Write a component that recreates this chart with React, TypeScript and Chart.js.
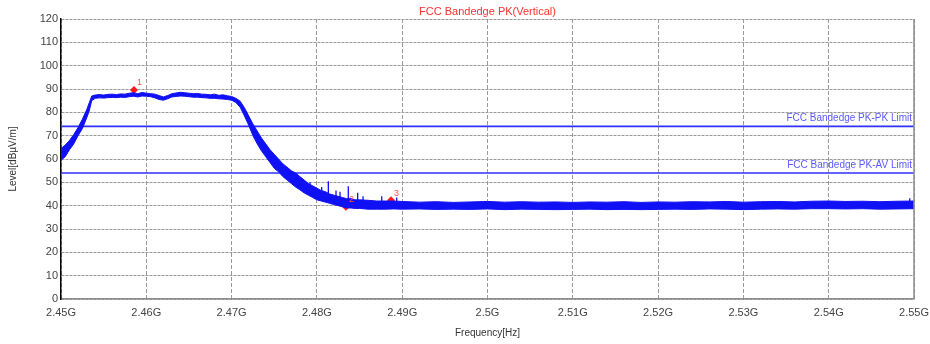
import React, { useEffect, useRef } from "react";
import { Chart, registerables } from "chart.js";

Chart.register(...registerables);

// ---------- data (frequency in GHz, level in dBµV/m) ----------
const freqs = [
  2.4500, 2.4505, 2.4510, 2.4515, 2.4520, 2.4525, 2.4530, 2.4533, 2.4536, 2.4540,
  2.4545, 2.4550, 2.4555, 2.4560, 2.4565, 2.4570, 2.4575, 2.4580, 2.4585, 2.4590,
  2.4595, 2.4600, 2.4605, 2.4610, 2.4615, 2.4620, 2.4625, 2.4630, 2.4635, 2.4640,
  2.4645, 2.4650, 2.4655, 2.4660, 2.4665, 2.4670, 2.4675, 2.4680, 2.4685, 2.4690,
  2.4695, 2.4700, 2.4705, 2.4710, 2.4715, 2.4720, 2.4725, 2.4730, 2.4735, 2.4740,
  2.4745, 2.4750, 2.4755, 2.4760, 2.4765, 2.4770, 2.4775, 2.4780, 2.4785, 2.4790,
  2.4795, 2.4800, 2.4805, 2.4810, 2.4815, 2.4820, 2.4825, 2.4830, 2.4835, 2.4840,
  2.4845, 2.4850, 2.4860, 2.4870, 2.4880, 2.4890, 2.4900, 2.4920, 2.4940, 2.4960,
  2.4980, 2.5000, 2.5020, 2.5040, 2.5060, 2.5080, 2.5100, 2.5120, 2.5140, 2.5160,
  2.5180, 2.5200, 2.5220, 2.5240, 2.5260, 2.5280, 2.5300, 2.5320, 2.5340, 2.5360,
  2.5380, 2.5400, 2.5420, 2.5440, 2.5460, 2.5480, 2.5500,
];
const traceUpper = [
  64.5, 66.0, 68.0, 70.5, 73.5, 77.0, 81.0, 84.0, 87.0, 87.4,
  87.6, 87.4, 87.7, 87.8, 87.6, 87.9, 87.8, 88.2, 88.4, 88.0,
  88.5, 88.2, 88.0, 87.8, 87.2, 86.6, 87.2, 88.0, 88.3, 88.6,
  88.4, 88.2, 88.0, 88.1, 87.8, 87.7, 87.5, 87.8, 87.3, 87.5,
  87.1, 86.8, 86.0, 84.8, 82.0, 78.5, 75.0, 72.0, 69.0, 66.5,
  64.0, 62.0, 60.0, 58.0, 56.5, 55.0, 54.0, 52.5, 51.0, 49.5,
  48.5, 47.5, 46.5, 46.0, 45.0, 44.5, 44.0, 43.5, 43.0, 43.0,
  42.5, 42.5, 42.3, 42.0, 42.0, 42.0, 41.8, 41.5, 41.7, 41.4,
  41.6, 41.8, 41.5, 41.7, 41.5, 41.6, 41.4, 41.6, 41.5, 41.7,
  41.4, 41.6, 41.5, 41.7, 41.6, 41.8, 41.5, 41.7, 41.8, 41.6,
  41.9, 42.0, 41.8, 41.9, 41.7, 41.9, 42.0,
];
const traceLower = [
  59.5, 61.0, 64.0, 66.5, 70.0, 73.0, 77.5, 80.5, 85.0, 86.0,
  86.2, 86.1, 86.3, 86.4, 86.3, 86.5, 86.4, 86.7, 86.9, 86.6,
  87.0, 86.9, 86.7, 86.2, 85.5, 85.2, 85.8, 86.6, 86.8, 87.0,
  86.9, 86.7, 86.5, 86.5, 86.3, 86.2, 86.0, 86.0, 85.8, 85.7,
  85.5, 85.2, 84.2, 82.2, 78.5, 74.5, 70.0, 66.5, 63.5, 61.0,
  58.5, 56.0, 54.5, 52.5, 51.0, 49.5, 48.0, 46.8, 45.5, 44.5,
  43.5, 42.5, 42.0, 41.5, 41.0, 40.5, 40.0, 39.5, 39.0, 39.0,
  38.8, 38.8, 38.5, 38.5, 38.5, 38.6, 38.5, 38.6, 38.4, 38.5,
  38.4, 38.6, 38.3, 38.5, 38.4, 38.3, 38.4, 38.5, 38.3, 38.4,
  38.3, 38.4, 38.5, 38.4, 38.6, 38.5, 38.3, 38.5, 38.6, 38.5,
  38.7, 38.7, 38.6, 38.7, 38.5, 38.6, 38.7,
];

// narrow spurious spikes above the noise floor
const spikeFreqs = [2.47919, 2.48056, 2.48134, 2.48224, 2.48271, 2.48368, 2.48478, 2.48541, 2.4876, 2.48936, 2.5495];
const spikeBase = [45.0, 43.5, 43.0, 42.5, 42.5, 42.0, 41.8, 41.8, 41.6, 41.6, 41.6];
const spikeTops = [50.0, 48.0, 50.5, 46.5, 46.0, 48.3, 45.5, 44.0, 44.0, 43.5, 43.2];

const markerNames = ["1", "2", "3"];
const markerFreqs = [2.45856, 2.4834, 2.48869];
const markerLevels = [89.6, 39.5, 42.3];

const limitPkPk = 74;
const limitPkAv = 54;
const limitLabels = ["FCC Bandedge PK-PK Limit", "FCC Bandedge PK-AV Limit"];

const xTickValues = [2.45, 2.46, 2.47, 2.48, 2.49, 2.5, 2.51, 2.52, 2.53, 2.54, 2.55];
const yMin = 0;
const yMax = 120;
const yStep = 10;

const chartTitle = "FCC Bandedge PK(Vertical)";
const xTitle = "Frequency[Hz]";
const yTitle = "Level[dBµV/m]";

const FONT = "'Liberation Sans', Arial, sans-serif";
const BLUE = "#1010f4";

export default function App() {
  const ref = useRef<HTMLCanvasElement | null>(null);

  useEffect(() => {
    const canvas = ref.current;
    if (!canvas) return;

    const lowerPts = freqs.map((f, i) => ({ x: f, y: traceLower[i] }));
    const upperPts = freqs.map((f, i) => ({ x: f, y: traceUpper[i] }));
    const spikePts: any[] = [];
    spikeFreqs.forEach((f, i) => {
      spikePts.push({ x: f, y: spikeBase[i] });
      spikePts.push({ x: f, y: spikeTops[i] });
      spikePts.push({ x: f, y: null });
    });
    const markerPts = markerFreqs.map((f, i) => ({ x: f, y: markerLevels[i] }));
    const xMin = xTickValues[0];
    const xMax = xTickValues[xTickValues.length - 1];

    const textPlugin = {
      id: "textPlugin",
      afterDatasetsDraw(chart: any) {
        const { ctx, chartArea, scales } = chart;
        const xs = scales.x;
        const ys = scales.y;
        ctx.save();
        // right border
        ctx.strokeStyle = "#8c8c8c";
        ctx.lineWidth = 1.5;
        ctx.beginPath();
        ctx.moveTo(chartArea.right, chartArea.top);
        ctx.lineTo(chartArea.right, chartArea.bottom);
        ctx.stroke();

        // title
        const cx = (chartArea.left + chartArea.right) / 2;
        ctx.fillStyle = "#ff3030";
        ctx.font = `11px ${FONT}`;
        ctx.textAlign = "center";
        ctx.textBaseline = "middle";
        ctx.fillText(chartTitle, cx, 12);

        // x title
        ctx.fillStyle = "#333";
        ctx.font = `10px ${FONT}`;
        ctx.fillText(xTitle, cx, 333);

        // y title
        ctx.save();
        ctx.translate(13, (chartArea.top + chartArea.bottom) / 2);
        ctx.rotate(-Math.PI / 2);
        ctx.fillText(yTitle, 0, 0);
        ctx.restore();

        // limit labels
        ctx.fillStyle = "#5a5aff";
        ctx.font = `10px ${FONT}`;
        ctx.textAlign = "right";
        ctx.textBaseline = "alphabetic";
        ctx.fillText(limitLabels[0], chartArea.right - 2, ys.getPixelForValue(limitPkPk) - 5);
        ctx.fillText(limitLabels[1], chartArea.right - 2, ys.getPixelForValue(limitPkAv) - 5);

        // marker labels
        ctx.fillStyle = "#ff5050";
        ctx.font = `9px ${FONT}`;
        ctx.textAlign = "left";
        ctx.textBaseline = "middle";
        markerNames.forEach((n, i) => {
          const px = xs.getPixelForValue(markerFreqs[i]);
          const py = ys.getPixelForValue(markerLevels[i]);
          ctx.fillText(n, px + 3, py - 7);
        });
        ctx.restore();
      },
    };

    const chart = new Chart(canvas, {
      type: "line",
      data: {
        datasets: [
          {
            data: lowerPts,
            borderColor: BLUE,
            borderWidth: 1,
            pointRadius: 0,
            fill: false,
          },
          {
            data: upperPts,
            borderColor: BLUE,
            borderWidth: 1,
            pointRadius: 0,
            fill: "-1",
            backgroundColor: BLUE,
          },
          {
            data: spikePts,
            borderColor: BLUE,
            borderWidth: 1.3,
            pointRadius: 0,
            spanGaps: false,
            fill: false,
          },
          {
            data: [
              { x: xMin, y: limitPkPk },
              { x: xMax, y: limitPkPk },
            ],
            borderColor: "#2f2fff",
            borderWidth: 1.6,
            pointRadius: 0,
            fill: false,
          },
          {
            data: [
              { x: xMin, y: limitPkAv },
              { x: xMax, y: limitPkAv },
            ],
            borderColor: "#2f2fff",
            borderWidth: 1.6,
            pointRadius: 0,
            fill: false,
          },
          {
            data: markerPts,
            showLine: false,
            pointStyle: "rectRot",
            pointRadius: 4,
            pointBackgroundColor: "#ff1a1a",
            pointBorderColor: "#ff1a1a",
            borderWidth: 0,
          },
        ],
      },
      options: {
        responsive: false,
        animation: false,
        devicePixelRatio: 1,
        layout: { padding: { top: 19, right: 16, left: 0, bottom: 0 } },
        plugins: {
          legend: { display: false },
          tooltip: { enabled: false },
          title: { display: false },
        },
        elements: { line: { tension: 0 } },
        scales: {
          x: {
            type: "linear",
            min: xMin,
            max: xMax,
            afterBuildTicks: (scale: any) => {
              scale.ticks = xTickValues.map((v) => ({ value: v }));
            },
            afterFit: (scale: any) => {
              scale.height = 45;
              scale.paddingLeft = 0;
              scale.paddingRight = 0;
            },
            ticks: {
              autoSkip: false,
              maxRotation: 0,
              padding: 7,
              color: "#444",
              font: { family: FONT, size: 11 },
              callback: (v: any) => `${Math.round(Number(v) * 100) / 100}G`,
            },
            grid: {
              color: "#9a9a9a",
              lineWidth: 1,
              drawTicks: false,
            },
            border: { color: "#8c8c8c", width: 1.5, dash: [4, 2] },
          },
          y: {
            type: "linear",
            min: yMin,
            max: yMax,
            afterFit: (scale: any) => {
              scale.width = 61;
              scale.paddingTop = 0;
              scale.paddingBottom = 0;
            },
            ticks: {
              stepSize: yStep,
              padding: 3,
              color: "#444",
              font: { family: FONT, size: 11 },
            },
            grid: {
              color: "#9a9a9a",
              lineWidth: 1,
              drawTicks: false,
            },
            border: { color: "#000", width: 1.5, dash: [3, 1] },
          },
        },
      },
      plugins: [textPlugin],
    } as any);

    return () => chart.destroy();
  }, []);

  return (
    <div style={{ position: "absolute", left: 0, top: 0, width: 930, height: 344, background: "#fff" }}>
      <canvas ref={ref} width={930} height={344} style={{ width: 930, height: 344, display: "block" }} />
    </div>
  );
}
